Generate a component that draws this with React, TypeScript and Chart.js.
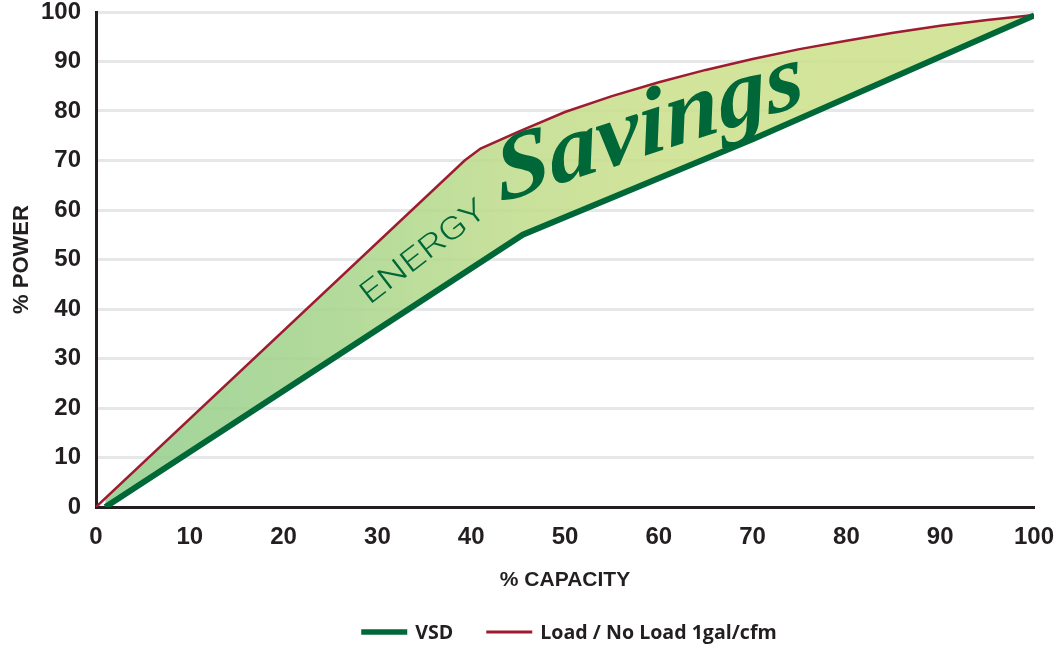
import React, { useEffect, useRef } from "react";
import { Chart, registerables } from "chart.js";

Chart.register(...registerables);

// ---- data ----
const vsdX = [1, 45.5, 70, 100];
const vsdY = [0, 55, 74.3, 99.3];
const loadX = [0, 39.3, 41, 45, 50, 55, 60, 65, 70, 75, 80, 85, 90, 95, 100];
const loadY = [0, 70, 72.4, 75.8, 79.8, 83, 85.8, 88.3, 90.5, 92.5, 94.2, 95.8, 97.2, 98.4, 99.4];
const seriesLabels = ["VSD", "Load / No Load 1gal/cfm"];
const xTitle = "% CAPACITY";
const yTitle = "% POWER";
const overlayWords = ["ENERGY", "Savings"];

const INK = "#231f20";
const GREEN = "#006838";
const RED = "#9e1b32";
const GRID = "#e6e7e8";
const TICK_FONT = '"Liberation Sans", Arial, Helvetica, sans-serif';
const LEGEND_FONT = '"Open Sans", "Noto Sans", sans-serif';

export default function App() {
  const ref = useRef<HTMLCanvasElement>(null);

  useEffect(() => {
    document.body.style.margin = "0";
    const canvas = ref.current;
    if (!canvas) return;

    const overlayPlugin = {
      id: "overlayText",
      afterDatasetsDraw(chart: any) {
        const { ctx } = chart;
        const xs = chart.scales.x;
        const ys = chart.scales.y;
        // ENERGY
        ctx.save();
        ctx.translate(xs.getPixelForValue(35.5), ys.getPixelForValue(50.0));
        ctx.rotate((-37.5 * Math.PI) / 180);
        ctx.font = '300 31px Roboto, "Liberation Sans", sans-serif';
        ctx.textAlign = "center";
        ctx.textBaseline = "alphabetic";
        const w1 = ctx.measureText(overlayWords[0]).width;
        ctx.scale(150 / w1, 1);
        ctx.fillStyle = GREEN;
        ctx.fillText(overlayWords[0], 0, 0);
        ctx.restore();
        // Savings
        ctx.save();
        ctx.translate(xs.getPixelForValue(59.4), ys.getPixelForValue(71.5));
        ctx.rotate((-18 * Math.PI) / 180);
        ctx.transform(1, 0, -0.18, 1, 0, 0);
        ctx.font = 'italic bold 84px "Liberation Serif", "DejaVu Serif", serif';
        ctx.textAlign = "center";
        ctx.textBaseline = "alphabetic";
        const w2 = ctx.measureText(overlayWords[1]).width;
        ctx.scale(322 / w2, 1.1);
        ctx.fillStyle = GREEN;
        ctx.fillText(overlayWords[1], 0, 0);
        ctx.restore();
      },
    };

    const legendPlugin = {
      id: "bottomLegend",
      afterDraw(chart: any) {
        const { ctx, chartArea } = chart;
        const lineLen = 46;
        const textGap = 8;
        const itemGap = 33;
        ctx.save();
        ctx.font = `bold 19.6px ${LEGEND_FONT}`;
        const items = chart.data.datasets.map((ds: any) => ({
          label: ds.label,
          color: ds.borderColor,
          width: ds.borderWidth,
          tw: ctx.measureText(ds.label).width,
        }));
        const total =
          items.reduce((s: number, it: any) => s + lineLen + textGap + it.tw, 0) +
          itemGap * (items.length - 1);
        let x = (chartArea.left + chartArea.right) / 2 + 4 - total / 2;
        const y = chart.height - 13;
        ctx.textBaseline = "middle";
        ctx.textAlign = "left";
        for (const it of items) {
          ctx.strokeStyle = it.color;
          ctx.lineWidth = it.width >= 5 ? 5.5 : 3;
          ctx.beginPath();
          ctx.moveTo(x, y);
          ctx.lineTo(x + lineLen, y);
          ctx.stroke();
          x += lineLen + textGap;
          ctx.fillStyle = INK;
          ctx.fillText(it.label, x, y + 1);
          x += it.tw + itemGap;
        }
        ctx.restore();
      },
    };

    const fillColor = (c: any) => {
      const chart = c.chart;
      const a = chart.chartArea;
      if (!a) return "rgba(200,224,150,0.88)";
      const g = chart.ctx.createLinearGradient(a.left, 0, a.right, 0);
      g.addColorStop(0, "rgba(145,205,140,0.88)");
      g.addColorStop(0.25, "rgba(167,213,142,0.88)");
      g.addColorStop(0.42, "rgba(190,220,142,0.88)");
      g.addColorStop(0.6, "rgba(204,224,141,0.88)");
      g.addColorStop(1, "rgba(206,225,141,0.88)");
      return g;
    };

    const chart = new Chart(canvas, {
      type: "line",
      data: {
        datasets: [
          {
            label: seriesLabels[0],
            data: vsdX.map((x, i) => ({ x, y: vsdY[i] })),
            borderColor: GREEN,
            backgroundColor: GREEN,
            borderWidth: 6,
            pointRadius: 0,
            tension: 0,
            fill: false,
          },
          {
            label: seriesLabels[1],
            data: loadX.map((x, i) => ({ x, y: loadY[i] })),
            borderColor: RED,
            backgroundColor: fillColor,
            borderWidth: 2.5,
            pointRadius: 0,
            tension: 0,
            fill: "-1",
          },
        ],
      },
      options: {
        animation: false,
        responsive: true,
        maintainAspectRatio: false,
        devicePixelRatio: 1,
        layout: { padding: { top: 0, right: 0, bottom: 52, left: 0 } },
        plugins: {
          legend: { display: false },
          tooltip: { enabled: false },
        },
        scales: {
          x: {
            type: "linear",
            min: 0,
            max: 100,
            ticks: {
              stepSize: 10,
              color: INK,
              padding: 16,
              maxRotation: 0,
              font: { family: TICK_FONT, weight: "bold", size: 24 },
            },
            grid: { display: false, drawTicks: false },
            border: { display: true, color: INK, width: 3 },
            title: {
              display: true,
              text: xTitle,
              color: INK,
              font: { family: TICK_FONT, weight: "bold", size: 21 },
              padding: { top: 0, bottom: 0 },
            },
            afterFit: (s: any) => {
              s.height = 86;
              s.paddingLeft = 0;
              s.paddingRight = 24;
            },
          },
          y: {
            type: "linear",
            min: 0,
            max: 100,
            ticks: {
              stepSize: 10,
              color: INK,
              padding: 15,
              font: { family: TICK_FONT, weight: "bold", size: 24 },
            },
            grid: { color: GRID, lineWidth: 3, drawTicks: false },
            border: { display: true, color: INK, width: 3 },
            title: {
              display: true,
              text: yTitle,
              color: INK,
              font: { family: TICK_FONT, weight: "bold", size: 22 },
              padding: { top: 9, bottom: 0 },
            },
            afterFit: (s: any) => {
              s.width = 96;
              s.paddingTop = 12;
              s.paddingBottom = 0;
            },
          },
        },
      },
      plugins: [overlayPlugin, legendPlugin],
    });

    return () => chart.destroy();
  }, []);

  return (
    <div style={{ position: "absolute", left: 0, top: 0, width: 1058, height: 645, background: "#fff" }}>
      <canvas ref={ref} />
    </div>
  );
}
